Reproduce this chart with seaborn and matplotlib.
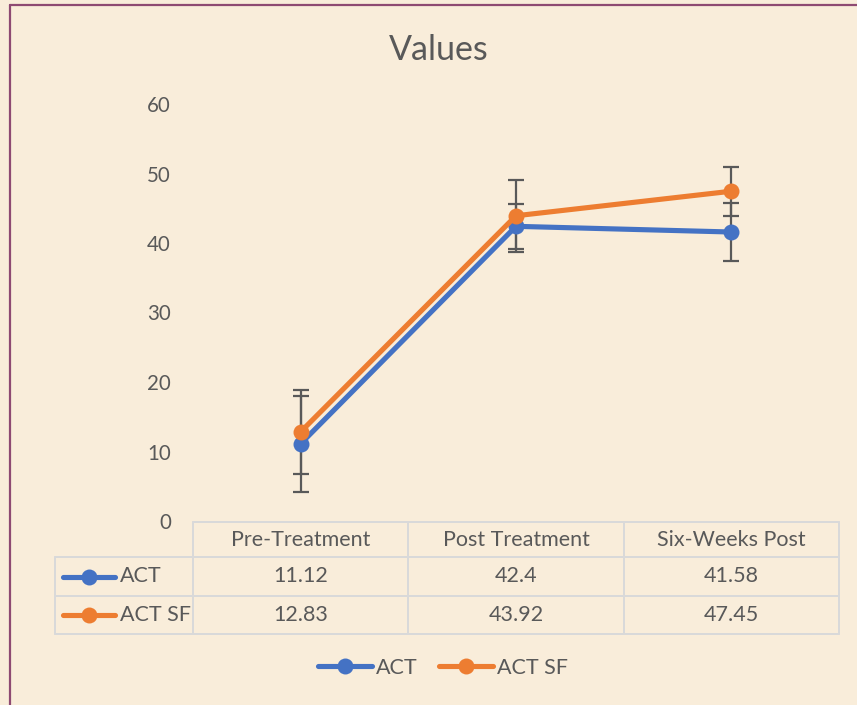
import matplotlib
matplotlib.use('Agg')
import matplotlib.pyplot as plt
from matplotlib.lines import Line2D
import seaborn as sns
import pandas as pd

# data
stages = ['Pre-Treatment', 'Post Treatment', 'Six-Weeks Post']
series = ['ACT', 'ACT SF']
act = [11.12, 42.4, 41.58]
act_sf = [12.83, 43.92, 47.45]
act_err = [6.9, 3.25, 4.2]
act_sf_err = [6.05, 5.2, 3.55]
yticks = [0, 10, 20, 30, 40, 50, 60]

bg = '#F9EDDA'
colors = {'ACT': '#4472C4', 'ACT SF': '#ED7D31'}
text_c = '#595959'
grid_c = '#D9D9D9'
border_c = '#8E4A72'

df = pd.DataFrame({
    'stage': stages * 2,
    'value': act + act_sf,
    'series': ['ACT'] * len(stages) + ['ACT SF'] * len(stages),
})

sns.set_theme(style='white')
plt.rcParams['font.family'] = ['Lato', 'DejaVu Sans']

W, H = 857, 705
fig = plt.figure(figsize=(W / 100, H / 100), dpi=100, facecolor=bg)


def fx(px):
    return px / W


def fy(py):
    return 1 - py / H


ax = fig.add_axes([fx(193), fy(521), fx(839) - fx(193), fy(104) - fy(521)])
ax.set_facecolor(bg)

# error bars under the lines
for vals, errs in [(act, act_err), (act_sf, act_sf_err)]:
    ax.errorbar(range(len(stages)), vals, yerr=errs, fmt='none', ecolor='#595959',
                elinewidth=1.6, capsize=6, capthick=1.6, zorder=1)

sns.lineplot(data=df, x='stage', y='value', hue='series', palette=colors,
             marker='o', markersize=11.5, markeredgewidth=0, linewidth=3.7,
             sort=False, legend=False, ax=ax, zorder=2)

ax.set_xlim(-0.5, len(stages) - 0.5)
ax.set_ylim(0, 60)
ax.set_yticks(yticks)
ax.set_xticks([])
ax.set_xlabel('')
ax.set_ylabel('')
ax.tick_params(axis='y', length=0, pad=16, labelsize=14.8, labelcolor=text_c)
for s in ax.spines.values():
    s.set_visible(False)
for ln in ax.lines:
    ln.set_clip_on(False)

# title
fig.text(fx(439), fy(50), 'Values', ha='center', va='center', fontsize=24.5, color=text_c)

# data table
col_edges = [193, 408, 624, 839]
row_edges = [522, 557, 596, 634]
lab_left = 55
fs = 15.5


def hline(y, x0, x1):
    fig.add_artist(Line2D([fx(x0), fx(x1)], [fy(y), fy(y)], color=grid_c, lw=1.4))


def vline(x, y0, y1):
    fig.add_artist(Line2D([fx(x), fx(x)], [fy(y0), fy(y1)], color=grid_c, lw=1.4))


hline(row_edges[0], col_edges[0], col_edges[-1])
for y in row_edges[1:]:
    hline(y, lab_left, col_edges[-1])
for x in col_edges:
    vline(x, row_edges[0], row_edges[-1])
vline(lab_left, row_edges[1], row_edges[-1])

centers = [(a + b) / 2 for a, b in zip(col_edges[:-1], col_edges[1:])]
for cx, s in zip(centers, stages):
    fig.text(fx(cx), fy((row_edges[0] + row_edges[1]) / 2), s, ha='center', va='center',
             fontsize=fs, color=text_c)

for r, (name, vals) in enumerate(zip(series, [act, act_sf])):
    cy = (row_edges[r + 1] + row_edges[r + 2]) / 2
    for cx, v in zip(centers, vals):
        fig.text(fx(cx), fy(cy), f'{v:g}', ha='center', va='center', fontsize=fs, color=text_c)
    fig.add_artist(Line2D([fx(63), fx(115)], [fy(cy), fy(cy)], color=colors[name], lw=3.7,
                          solid_capstyle='round'))
    fig.add_artist(Line2D([fx(89)], [fy(cy)], color=colors[name], marker='o', markersize=11.5,
                          markeredgewidth=0))
    fig.text(fx(120), fy(cy), name, ha='left', va='center', fontsize=fs, color=text_c)

# legend
handles = [Line2D([], [], color=colors[s], lw=3.7, marker='o', markersize=11.5,
                  markeredgewidth=0, solid_capstyle='round') for s in series]
fig.legend(handles, series, loc='center', bbox_to_anchor=(fx(443), fy(668)), ncol=2,
           frameon=False, handlelength=2.5, handletextpad=0.2, columnspacing=1.0,
           fontsize=fs, labelcolor=text_c)

# outer border (top and left visible in the crop)
fig.add_artist(Line2D([fx(9.5), fx(9.5)], [fy(4.5), 0], color=border_c, lw=1.6))
fig.add_artist(Line2D([fx(9.5), 1], [fy(4.5), fy(4.5)], color=border_c, lw=1.6))

fig.savefig('out.png', dpi=100, facecolor=bg)
